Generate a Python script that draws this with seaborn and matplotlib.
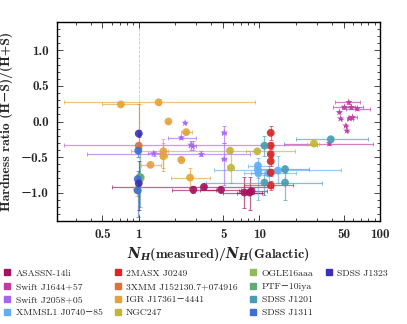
import numpy as np
import pandas as pd
import matplotlib
matplotlib.use("Agg")
import matplotlib.pyplot as plt
import seaborn as sns
from matplotlib.lines import Line2D
from matplotlib.ticker import FixedLocator, LogLocator, MultipleLocator, FuncFormatter, NullFormatter

# sources, legend order and colours
sources = ["ASASSN-14li", "Swift J1644+57", "Swift J2058+05", "XMMSL1 J0740−85",
           "2MASX J0249", "3XMM J152130.7+074916", "IGR J17361−4441", "NGC247",
           "OGLE16aaa", "PTF−10iya", "SDSS J1201", "SDSS J1311", "SDSS J1323"]
colors = ["#a3135c", "#c13aa6", "#a764f5", "#62aef5",
          "#dc2626", "#e0703a", "#e4a33a", "#c2b63a",
          "#95b856", "#62aa78", "#4a9bb5", "#3d6fd6", "#3c2fb8"]
jetted = ["Swift J1644+57", "Swift J2058+05"]

# one row per observation: NH ratio, hardness ratio and error bounds
source = (["ASASSN-14li"] * 6 + ["Swift J1644+57"] * 11 + ["Swift J2058+05"] * 8
          + ["XMMSL1 J0740−85"] * 5 + ["2MASX J0249"] * 6 + ["3XMM J152130.7+074916"]
          + ["IGR J17361−4441"] * 10 + ["NGC247"] * 4 + ["OGLE16aaa"] + ["PTF−10iya"]
          + ["SDSS J1201"] * 5 + ["SDSS J1311"] * 3 + ["SDSS J1323"] * 2)
nh_ratio = [2.83, 3.47, 4.8, 7.5, 8.3, 8.6,
            55, 50.6, 57.8, 64.6, 46, 47, 56, 59, 52, 53, 38,
            2.42, 2.25, 2.7, 2.8, 1.33, 3.3, 5.1, 5.1,
            9.7, 9.7, 9.8, 14.2, 11.9,
            12.4, 12.4, 12.4, 12.4, 12.4, 12.4,
            1.0,
            0.71, 1.46, 1.76, 2.47, 1.6, 1.6, 2.25, 1.25, 2.66, 0.97,
            5.7, 5.8, 9.6, 28.3,
            1.04,
            1.02,
            39, 11.0, 16.3, 11.0, 16.3,
            0.99, 0.98, 0.98,
            1.0, 1.0]
nh_lo = [1.9, 0.6, 3.2, 5.0, 6.5, 6.8,
         42, 41, 48, 52, 46, 47, 53, 54, 52, 53, 16,
         2.42, 1.73, 0.24, 2.6, 1.2, 0.37, 4.9, 4.9,
         8.0, 4.2, 8.5, 12.3, 7.5,
         12.0, 12.0, 12.0, 12.0, 12.0, 7.5,
         0.98,
         0.50, 0.24, 1.76, 2.25, 0.86, 1.5, 2.15, 1.04, 1.86, 0.95,
         1.6, 5.5, 7.7, 25,
         1.0,
         1.0,
         20, 10.5, 10.2, 3.6, 15.5,
         0.97, 0.96, 0.96,
         0.98, 0.98]
nh_hi = [4.4, 13, 7.0, 10.5, 11, 11.5,
         68, 62, 72, 83, 46, 47, 60, 64, 52, 53, 87,
         2.42, 3.0, 30, 3.0, 1.5, 8.3, 5.3, 5.3,
         12.0, 47, 11, 16.5, 20,
         12.8, 12.8, 12.8, 12.8, 12.8, 19,
         1.02,
         1.0, 9.1, 1.76, 2.77, 1.76, 1.7, 2.35, 1.54, 3.9, 0.99,
         9.6, 6.1, 19.7, 31,
         1.08,
         1.04,
         80, 11.5, 25.7, 32.8, 17,
         1.01, 1.0, 1.0,
         1.02, 1.02]
hardness = [-0.96, -0.92, -0.96, -1.0, -1.0, -0.98,
            0.27, 0.2, 0.2, 0.18, 0.13, 0.04, 0.04, 0.06, -0.06, -0.13, -0.31,
            -0.02, -0.23, -0.33, -0.35, -0.45, -0.46, -0.16, -0.53,
            -0.62, -0.68, -0.73, -0.69, -0.73,
            -0.16, -0.34, -0.46, -0.56, -0.72, -0.9,
            -0.34,
            0.24, 0.27, 0.0, -0.15, -0.42, -0.49, -0.54, -0.61, -0.79, -0.96,
            -0.41, -0.65, -0.42, -0.31,
            -0.79,
            -0.78,
            -0.25, -0.34, -0.67, -0.86, -0.86,
            -0.41, -0.81, -0.97,
            -0.17, -0.87]
hr_lo = [-1.0, -0.95, -1.0, -1.22, -1.25, -1.02,
         0.25, 0.18, 0.18, 0.16, 0.13, 0.04, 0.04, 0.06, -0.06, -0.13, -0.33,
         -0.02, -0.25, -0.4, -0.4, -0.49, -0.49, -0.3, -0.89,
         -1.1, -0.76, -0.8, -0.86, -0.85,
         -0.26, -0.39, -0.5, -0.62, -0.77, -0.96,
         -0.38,
         0.22, 0.23, 0.0, -0.17, -0.69, -0.66, -0.58, -0.64, -0.93, -1.05,
         -0.45, -0.86, -0.46, -0.35,
         -0.84,
         -1.2,
         -0.28, -0.48, -0.71, -1.04, -1.1,
         -0.5, -0.9, -1.35,
         -0.22, -1.25]
hr_hi = [-0.91, -0.89, -0.92, -0.78, -0.78, -0.94,
         0.29, 0.22, 0.22, 0.2, 0.13, 0.04, 0.04, 0.06, -0.06, -0.13, -0.29,
         -0.02, -0.21, -0.27, -0.28, -0.41, -0.42, -0.07, -0.3,
         -0.52, -0.6, -0.66, -0.49, -0.62,
         -0.06, -0.29, -0.42, -0.5, -0.67, -0.84,
         0.24,
         0.26, 0.32, 0.0, -0.13, -0.24, -0.3, -0.5, -0.58, -0.65, -0.87,
         -0.38, -0.42, -0.38, -0.27,
         -0.74,
         -0.37,
         -0.22, -0.2, -0.63, -0.76, -0.73,
         -0.3, -0.7, -0.85,
         -0.12, -0.55]

df = pd.DataFrame({"source": source, "nh": nh_ratio, "hr": hardness,
                   "nh_lo": nh_lo, "nh_hi": nh_hi, "hr_lo": hr_lo, "hr_hi": hr_hi})
df["kind"] = np.where(df["source"].isin(jetted), "star", "circle")
palette = dict(zip(sources, colors))

sns.set_style("ticks")
plt.rcParams["font.family"] = ["cmb10", "DejaVu Serif"]
plt.rcParams["mathtext.fontset"] = "cm"
plt.rcParams["axes.unicode_minus"] = False

fig = plt.figure(figsize=(4.07, 3.24), dpi=100)
ax = fig.add_axes([0.140, 0.318, 0.794, 0.614])

ax.axvline(1, color="#c8c8c8", ls="--", lw=0.6, zorder=0)

# error bars per source
for name in sources:
    d = df[df["source"] == name]
    ax.errorbar(d["nh"], d["hr"],
                xerr=[d["nh"] - d["nh_lo"], d["nh_hi"] - d["nh"]],
                yerr=[d["hr"] - d["hr_lo"], d["hr_hi"] - d["hr"]],
                fmt="none", ecolor=palette[name], elinewidth=0.9,
                capsize=1.3, capthick=0.7, alpha=0.65, zorder=1)

sns.scatterplot(data=df, x="nh", y="hr", hue="source", hue_order=sources,
                palette=palette, style="kind", markers={"circle": "o", "star": "*"},
                s=32, edgecolor="none", alpha=0.9, legend=False, ax=ax, zorder=2)

ax.set_xscale("log")
ax.set_xlim(0.21, 100)
ax.set_ylim(-1.4, 1.4)

ax.xaxis.set_major_locator(FixedLocator([0.5, 1, 5, 10, 50, 100]))
ax.xaxis.set_major_formatter(FuncFormatter(lambda v, p: f"{v:g}"))
ax.xaxis.set_minor_locator(LogLocator(base=10, subs=np.arange(1, 10) * 1.0, numticks=20))
ax.xaxis.set_minor_formatter(NullFormatter())
ax.yaxis.set_major_locator(MultipleLocator(0.5))
ax.yaxis.set_minor_locator(MultipleLocator(0.1))
ax.yaxis.set_major_formatter(FuncFormatter(lambda v, p: f"{v:.1f}".replace("-", "−")))

ax.tick_params(which="both", direction="in", top=True, right=True, width=0.6)
ax.tick_params(which="major", length=4, labelsize=9.5, pad=6)
ax.tick_params(which="minor", length=2)
for sp in ax.spines.values():
    sp.set_linewidth(1.0)
    sp.set_color("black")

ax.set_xlabel(r"$\mathbfit{N}_{\mathbfit{H}}$(measured)/$\mathbfit{N}_{\mathbfit{H}}$(Galactic)",
              fontsize=10, labelpad=3, math_fontfamily="dejavuserif")
ax.set_ylabel("Hardness ratio (H−S)/(H+S)", fontsize=9.8, labelpad=6)

# pad the last column with blanks so the legend fills 4, 4, 4, 1
handles = [Line2D([], [], marker="s", ls="none", color=c, markersize=5) for c in colors]
labels = list(sources)
for _ in range(3):
    handles.append(Line2D([], [], ls="none", marker=None))
    labels.append("")
fig.legend(handles, labels, loc="upper left", bbox_to_anchor=(0.0, 0.182),
           ncol=4, frameon=False, handlelength=0.6, handletextpad=0.6,
           columnspacing=1.25, labelspacing=0.45, borderaxespad=0.0,
           prop={"family": ["cmr10", "DejaVu Serif"], "size": 7.0})

fig.savefig("out.png", dpi=100)
